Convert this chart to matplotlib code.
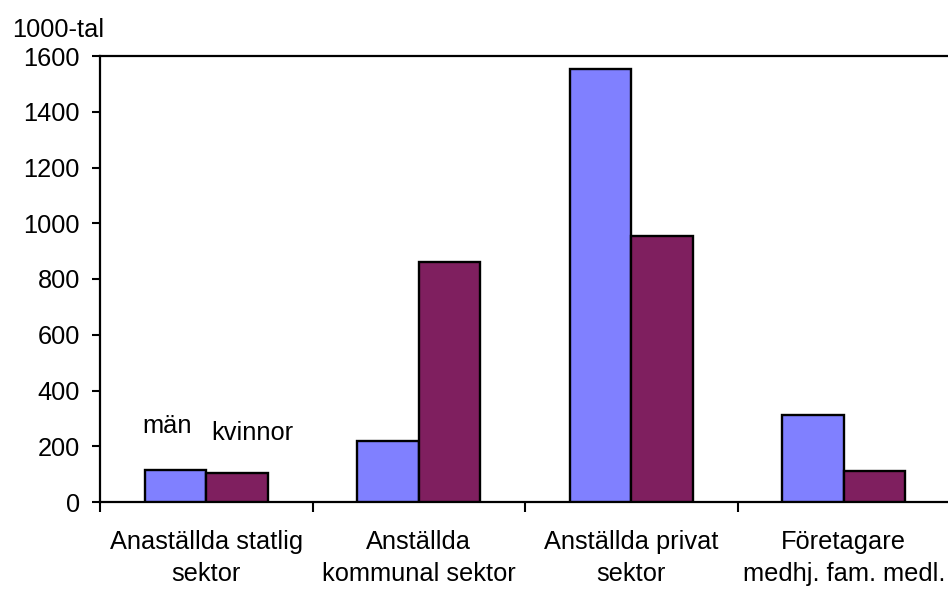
import matplotlib
matplotlib.use("Agg")
import matplotlib.pyplot as plt
import numpy as np

categories = ["Anaställda statlig\nsektor", "Anställda\nkommunal sektor",
              "Anställda privat\nsektor", "Företagare\nmedhj. fam. medl."]
man = [115, 219, 1553, 312]
kvinnor = [104, 860, 955, 112]
yticks = [0, 200, 400, 600, 800, 1000, 1200, 1400, 1600]

plt.rcParams['font.family'] = ['Liberation Sans', 'DejaVu Sans']
fs = 18.3

fig = plt.figure(figsize=(9.48, 5.89), dpi=100)
W, H = 948, 589
ax = fig.add_axes([100 / W, 1 - 502 / H, 850 / W, (502 - 56) / H])

x = np.arange(len(categories)) + 0.5
bw = 0.29
ax.bar(x - bw / 2, man, bw, color='#8080FF', edgecolor='black', linewidth=1.7, zorder=3)
ax.bar(x + bw / 2, kvinnor, bw, color='#7F1F5F', edgecolor='black', linewidth=1.7, zorder=3)

ax.set_xlim(0, len(categories))
ax.set_ylim(0, 1600)
ax.set_yticks(yticks)
ax.set_yticklabels([str(v) for v in yticks], fontsize=fs)
ax.set_xticks(x)
ax.set_xticklabels(categories, fontsize=fs, linespacing=1.45)
ax.set_xticks(np.arange(len(categories) + 1), minor=True)
ax.tick_params(axis='x', which='major', length=0, pad=20)
ax.tick_params(axis='x', which='minor', length=7, width=1.5, direction='out')
ax.tick_params(axis='y', length=6, width=1.5, direction='out', pad=8.5)

for s in ['left', 'bottom', 'top']:
    ax.spines[s].set_linewidth(1.6)
ax.spines['right'].set_visible(False)

ax.text(x[0] - bw / 2 - 0.04, 272, "män", ha='center', va='center', fontsize=fs)
ax.text(x[0] + bw / 2 + 0.07, 247, "kvinnor", ha='center', va='center', fontsize=fs)

fig.text(12 / W, 1 - 30 / H, "1000-tal", ha='left', va='center', fontsize=fs)

fig.savefig("out.png", dpi=100)
